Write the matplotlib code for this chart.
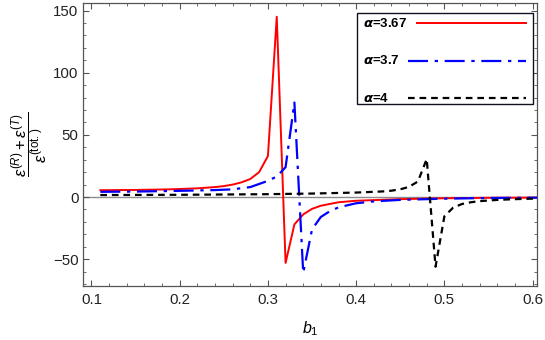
import numpy as np
import matplotlib
matplotlib.use("Agg")
import matplotlib.pyplot as plt
from matplotlib.ticker import MultipleLocator
from matplotlib.patches import Rectangle

plt.rcParams['font.family'] = ['Liberation Sans', 'DejaVu Sans']
plt.rcParams['mathtext.fontset'] = 'custom'
plt.rcParams['mathtext.rm'] = 'Liberation Sans'
plt.rcParams['mathtext.it'] = 'Liberation Sans:italic'
plt.rcParams['mathtext.bf'] = 'Liberation Sans:bold'

# alpha = 3.67
b1_red = [0.11, 0.15, 0.19, 0.22, 0.24, 0.25, 0.26, 0.27, 0.28, 0.29, 0.30, 0.31,
          0.32, 0.33, 0.34, 0.35, 0.36, 0.38, 0.40, 0.45, 0.50, 0.55, 0.61]
val_red = [5.5, 5.7, 6.2, 7.0, 8.0, 8.8, 10.0, 11.8, 14.5, 20.0, 33.0, 145.0,
           -53.0, -22.0, -14.0, -9.5, -7.0, -4.2, -3.0, -1.7, -1.0, -0.6, -0.4]

# alpha = 3.7
b1_blue = [0.11, 0.15, 0.20, 0.24, 0.26, 0.28, 0.29, 0.30, 0.31, 0.32, 0.33,
           0.34, 0.35, 0.36, 0.37, 0.38, 0.40, 0.42, 0.45, 0.50, 0.55, 0.61]
val_blue = [4.2, 4.4, 5.0, 5.6, 6.2, 8.0, 10.5, 13.0, 16.5, 24.0, 76.0,
            -61.0, -26.0, -16.0, -11.5, -8.3, -5.0, -3.5, -2.3, -1.3, -0.8, -0.5]

# alpha = 4
b1_black = [0.11, 0.20, 0.30, 0.35, 0.40, 0.43, 0.44, 0.45, 0.46, 0.47, 0.48,
            0.49, 0.50, 0.51, 0.52, 0.53, 0.54, 0.56, 0.58, 0.61]
val_black = [1.6, 1.8, 2.3, 2.8, 3.6, 4.5, 5.1, 6.2, 8.2, 12.5, 30.5,
             -56.0, -15.5, -8.5, -5.6, -4.2, -3.3, -2.3, -1.7, -1.1]

labels = [r'$\boldsymbol{\alpha}$=3.67', r'$\boldsymbol{\alpha}$=3.7', r'$\boldsymbol{\alpha}$=4']

fig = plt.figure(figsize=(5.45, 3.4), dpi=100)
ax = fig.add_axes([0.1517, 0.159, 0.8336, 0.832])

styles = [
    dict(color='red', lw=1.4, linestyle='-'),
    dict(color='blue', lw=1.6, linestyle=(0, (9, 3, 1.5, 3))),
    dict(color='black', lw=1.6, linestyle=(0, (3, 2.2))),
]

ax.axhline(0, color='#8c8c8c', lw=1.0, zorder=1)
for (xs, ys), st in zip([(b1_red, val_red), (b1_blue, val_blue), (b1_black, val_black)], styles):
    ax.plot(xs, ys, zorder=3, **st)

ax.set_xlim(0.09, 0.605)
ax.set_ylim(-71.5, 156)
ax.xaxis.set_major_locator(MultipleLocator(0.1))
ax.xaxis.set_minor_locator(MultipleLocator(0.02))
ax.yaxis.set_major_locator(MultipleLocator(50))
ax.yaxis.set_minor_locator(MultipleLocator(10))

frame_col = '#555555'
for sp in ax.spines.values():
    sp.set_color(frame_col)
    sp.set_linewidth(0.9)
ax.tick_params(which='both', direction='in', top=True, right=True,
               color=frame_col, labelsize=10.8, labelcolor='#222222')
ax.tick_params(which='major', length=4.5, width=0.8)
ax.tick_params(which='minor', length=2.5, width=0.6)
ax.tick_params(axis='x', pad=5)
ax.tick_params(axis='y', pad=3)

ax.set_xlabel(r'$b_1$', fontsize=11.5, labelpad=9)
ax.set_ylabel(r'$\dfrac{\epsilon^{(R)}+\epsilon^{(T)}}{\epsilon^{(\mathrm{tot.})}}$',
              fontsize=12, labelpad=3)

# legend box (Mathematica style: label left, line sample right)
ax.add_patch(Rectangle((0.604, 0.643), 0.387, 0.321, transform=ax.transAxes,
                       facecolor='white', edgecolor='#111122', lw=1.0, zorder=5))
rows_y = [0.928, 0.796, 0.664]
line_x0 = [0.735, 0.715, 0.715]
for lab, st, yy, x0 in zip(labels, styles, rows_y, line_x0):
    ax.text(0.617, yy, lab, transform=ax.transAxes, fontsize=9.5, fontweight='bold',
            va='center', ha='left', zorder=6)
    ax.plot([x0, 0.975], [yy, yy], transform=ax.transAxes, zorder=6, **st)

fig.savefig('out.png', dpi=100)
